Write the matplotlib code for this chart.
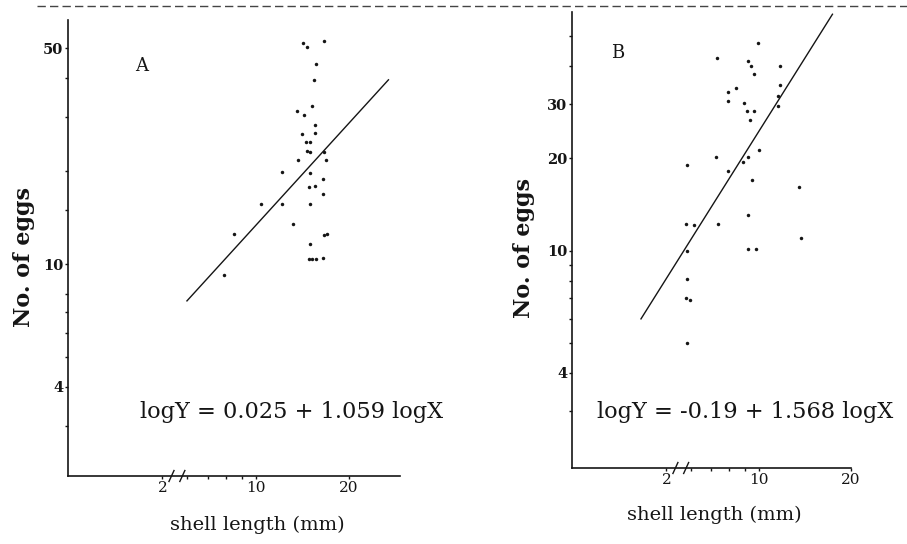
import matplotlib
matplotlib.use("Agg")
import matplotlib.pyplot as plt
from matplotlib.lines import Line2D
from matplotlib.ticker import FixedLocator, FixedFormatter, NullFormatter
import matplotlib.transforms as mtransforms

plt.rcParams['font.family'] = ['DejaVu Serif']

# ---------------- data ----------------
# Panel A (shell length mm, no. of eggs)
a_len = [16.6, 14.2, 14.6, 15.7, 15.4, 15.2, 13.6, 14.3, 15.5, 15.5, 14.1, 14.5, 15.0,
         14.6, 15.0, 16.6, 13.7, 16.9, 12.2, 15.0, 16.5, 14.8, 15.5, 16.5, 10.4, 12.2,
         15.0, 13.2, 8.5, 16.6, 17.0, 15.0, 14.9, 15.2, 15.6, 16.5, 7.9]
a_eggs = [52.6, 52.1, 50.4, 44.6, 39.4, 32.6, 31.4, 30.3, 28.1, 26.6, 26.3, 24.9, 24.9,
          23.3, 23.1, 23.1, 21.8, 21.8, 19.8, 19.7, 18.8, 17.8, 17.9, 16.9, 15.6, 15.6,
          15.6, 13.5, 12.5, 12.4, 12.5, 11.6, 10.4, 10.4, 10.4, 10.5, 9.25]
a_fit_x = [6.0, 26.8]
a_fit_y = [7.6, 39.5]
a_equation = "logY = 0.025 + 1.059 logX"

# Panel B
b_len = [9.93, 7.31, 9.25, 9.42, 11.7, 9.66, 11.7, 8.44, 7.92, 7.92, 11.6, 8.98, 11.6,
         9.16, 9.68, 9.39, 10.0, 9.23, 8.87, 7.23, 5.85, 7.96, 9.49, 13.5, 9.25, 5.77,
         6.14, 7.35, 13.7, 9.25, 9.8, 5.84, 5.84, 5.81, 5.99, 5.85]
b_eggs = [47.7, 42.5, 41.6, 40.0, 40.0, 37.8, 34.6, 34.0, 33.0, 30.8, 32.0, 30.2, 29.6,
          28.6, 28.6, 26.7, 21.3, 20.2, 19.5, 20.2, 19.1, 18.2, 17.0, 16.2, 13.1, 12.2,
          12.1, 12.2, 11.0, 10.1, 10.1, 10.0, 8.11, 7.03, 6.93, 5.0]
b_fit_x = [4.13, 17.4]
b_fit_y = [6.0, 59.0]
b_equation = "logY = -0.19 + 1.568 logX"

# axis ticks
x_major = [5, 10, 20]
x_major_labels = ["2", "10", "20"]
x_minor = [6, 7, 8, 9]
a_y_major = [4, 10, 50]
a_y_minor = [3, 5, 6, 7, 8, 15, 20, 30, 40]
b_y_major = [4, 10, 20, 30]
b_y_minor = [3, 5, 6, 7, 8, 9, 40, 50]

INK = '#151515'
W, H = 907, 544

fig = plt.figure(figsize=(W / 100, H / 100), dpi=100)
fig.patch.set_facecolor('white')


def px_axes(left, top, right, bottom):
    return [left / W, 1 - bottom / H, (right - left) / W, (bottom - top) / H]


def setup(ax, xlim, ylim, ymaj, ymin):
    ax.set_xscale('log')
    ax.set_yscale('log')
    ax.set_xlim(*xlim)
    ax.set_ylim(*ylim)
    for s in ['top', 'right']:
        ax.spines[s].set_visible(False)
    for s in ['left', 'bottom']:
        ax.spines[s].set_linewidth(1.2)
        ax.spines[s].set_color(INK)
    ax.xaxis.set_major_locator(FixedLocator(x_major))
    ax.xaxis.set_major_formatter(FixedFormatter(x_major_labels))
    ax.xaxis.set_minor_locator(FixedLocator(x_minor))
    ax.xaxis.set_minor_formatter(NullFormatter())
    ax.yaxis.set_major_locator(FixedLocator(ymaj))
    ax.yaxis.set_major_formatter(FixedFormatter([str(v) for v in ymaj]))
    ax.yaxis.set_minor_locator(FixedLocator(ymin))
    ax.yaxis.set_minor_formatter(NullFormatter())
    ax.tick_params(which='both', direction='out', length=2.5, width=1.0,
                   color=INK, labelcolor=INK)
    ax.tick_params(axis='x', which='major', labelsize=11, pad=1)
    ax.tick_params(axis='y', which='major', labelsize=10.5, pad=1)
    for t in ax.get_yticklabels():
        t.set_fontweight('bold')
    ax.set_facecolor('none')
    # axis break mark "//" on the x axis
    trans = mtransforms.blended_transform_factory(ax.transData, ax.transAxes)
    for dx in (0.0, 0.035):
        ax.add_line(Line2D([5.25 * 10 ** dx, 5.45 * 10 ** dx], [-0.012, 0.012],
                           transform=trans, color=INK, lw=1.0, clip_on=False))


axA = fig.add_axes(px_axes(68, 20, 400, 476))
setup(axA, (2.48, 29.2), (2.06, 61.7), a_y_major, a_y_minor)
axA.plot(a_len, a_eggs, 'o', color=INK, ms=2.5, mec='none')
axA.plot(a_fit_x, a_fit_y, '-', color=INK, lw=1.0)

axB = fig.add_axes(px_axes(572, 12, 851, 468))
setup(axB, (2.46, 20.0), (1.96, 60.0), b_y_major, b_y_minor)
axB.plot(b_len, b_eggs, 'o', color=INK, ms=2.5, mec='none')
axB.plot(b_fit_x, b_fit_y, '-', color=INK, lw=1.0)


def ftext(x, y, s, **kw):
    fig.text(x / W, 1 - y / H, s, color=INK, **kw)


ftext(142, 66, "A", fontsize=13, ha='center', va='center')
ftext(618, 53, "B", fontsize=13, ha='center', va='center')
ftext(140, 412, a_equation, fontsize=16.2, ha='left', va='center')
ftext(597, 412, b_equation, fontsize=16.2, ha='left', va='center')
ftext(24, 257, "No. of eggs", fontsize=16, fontweight='bold', rotation=90,
      ha='center', va='center')
ftext(524, 248, "No. of eggs", fontsize=16, fontweight='bold', rotation=90,
      ha='center', va='center')
ftext(257, 525, "shell length (mm)", fontsize=14, ha='center', va='center')
ftext(714, 515, "shell length (mm)", fontsize=14, ha='center', va='center')

# dashed trim line along the top of the scan
fig.add_artist(Line2D([37 / W, 1.0], [1 - 6 / H, 1 - 6 / H], transform=fig.transFigure,
                      color='#444444', lw=1.0, linestyle=(0, (6, 3))))

fig.savefig("out.png", dpi=100, facecolor='white')
